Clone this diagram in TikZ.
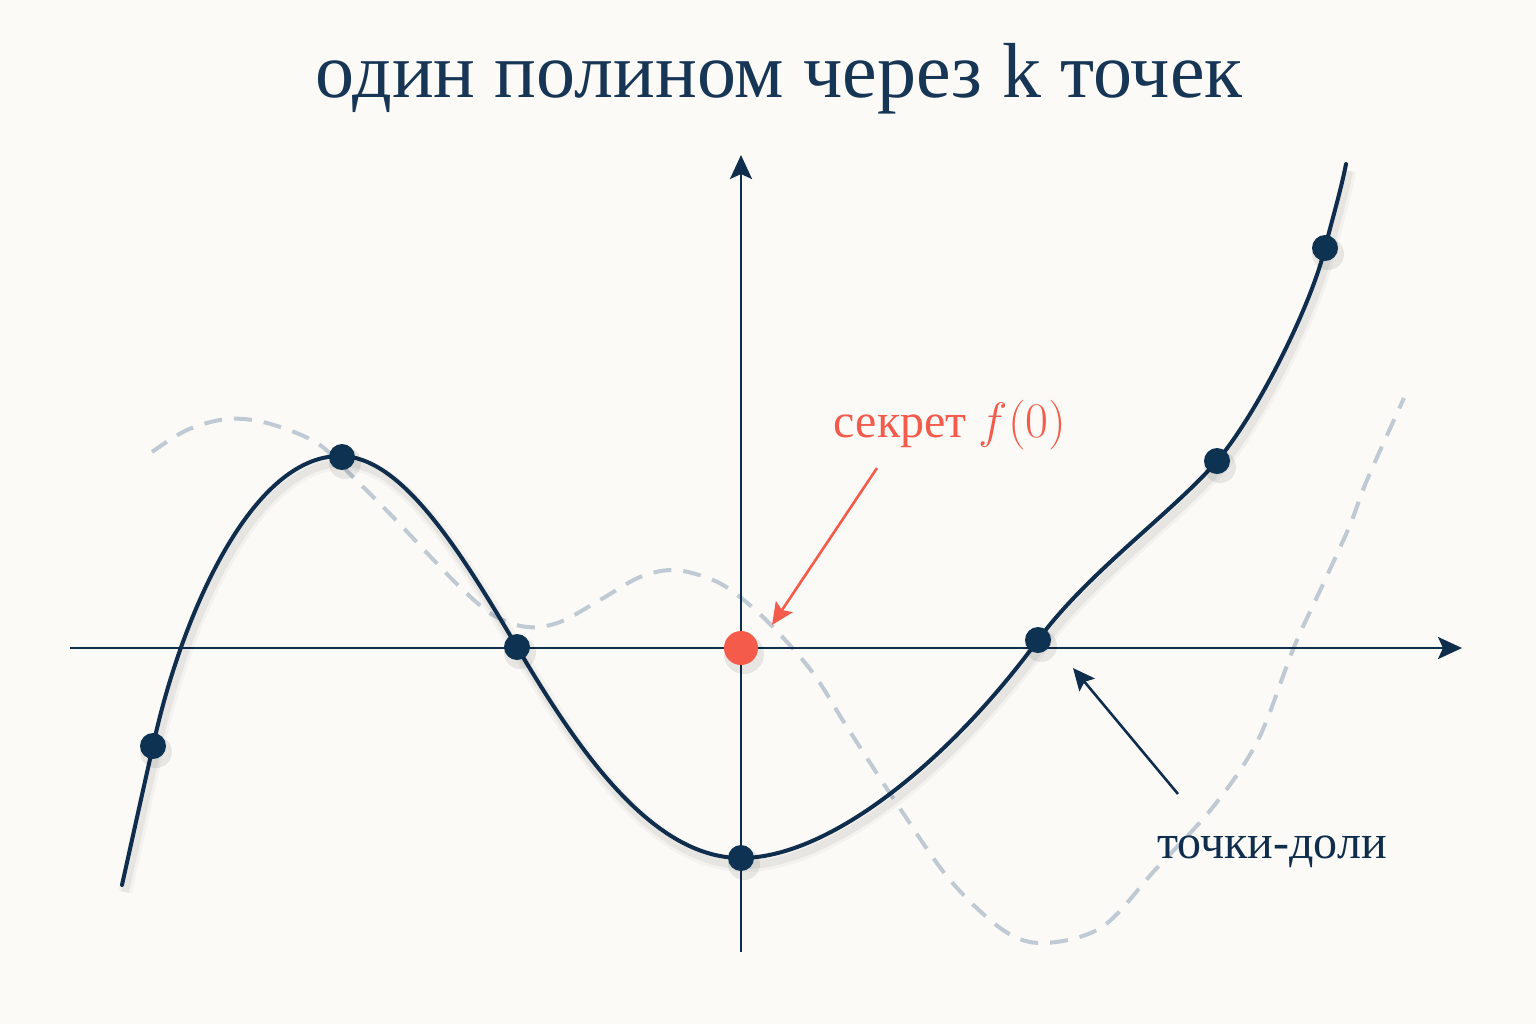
\documentclass[tikz,border=0pt]{standalone}
\usepackage{fontspec}
\setmainfont{Liberation Serif}
\usetikzlibrary{arrows.meta}
\definecolor{bgc}{HTML}{FBFAF7}
\definecolor{navy}{HTML}{0F2D4D}
\definecolor{dotc}{HTML}{0D3252}
\definecolor{titlec}{HTML}{173555}
\definecolor{redc}{HTML}{F55B4B}
\definecolor{dashc}{HTML}{BFCAD4}
\newcommand\solidcurve{(122,885) .. controls (132,840) and (143,790) .. (153,746)
  .. controls (180,620) and (250,456) .. (340,456)
  .. controls (400,456) and (457,545) .. (517,647)
  .. controls (575,745) and (650,858) .. (741,858)
  .. controls (830,858) and (950,760) .. (1038,640)
  .. controls (1088,572) and (1172,513) .. (1217,461)
  .. controls (1257,414) and (1311,306) .. (1325,248)
  .. controls (1332,220) and (1341,190) .. (1346,164)}
\newcommand\dashcurve{plot[smooth,tension=0.55] coordinates{(152,452) (187,430) (227,419) (267,423) (317,443) (353,477) (393,517) (427,553) (460,587) (493,615) (527,627) (560,622) (600,600) (640,577) (675,570) (713,580) (740,597) (773,627) (813,673) (847,727) (901,810) (950,880) (1003,930) (1044,943) (1102,927) (1155,870) (1213,807) (1258,740) (1294,647) (1325,580) (1350,525) (1367,480) (1404,398)}}
\tikzset{
  axisline/.style={draw=navy,line width=1.35pt,-{Stealth[length=12pt,width=11pt,inset=2.5pt]}},
  curveline/.style={draw=navy,line width=2pt,line cap=round},
  shadowline/.style={draw=black,line width=4pt,opacity=0.05},
  dashline/.style={draw=dashc,line width=2pt,dash pattern=on 9pt off 6pt},
  ptdot/.style={circle,fill=dotc,inner sep=0pt,minimum size=13pt},
  secdot/.style={circle,fill=redc,inner sep=0pt,minimum size=17pt},
  dotshadow/.style={circle,fill=black,opacity=0.08,inner sep=0pt,minimum size=16pt},
  redarrow/.style={draw=redc,line width=1.3pt,-{Stealth[length=11pt,width=10pt,inset=2pt]}},
  navyarrow/.style={draw=navy,line width=1.3pt,-{Stealth[length=11pt,width=10pt,inset=2pt]}},
}
\begin{document}
\begin{tikzpicture}[x=0.5pt,y=-0.5pt]
\fill[bgc] (0,0) rectangle (1536,1024);
\useasboundingbox (0,0) rectangle (1536,1024);
% title
\node[anchor=base,text=titlec,font=\fontsize{39}{45}\selectfont] (title) at (779,97) {один полином через k точек};
% dashed curve
\draw[dashline] \dashcurve;
% axes
\coordinate (xs) at (70,648); \coordinate (xe) at (1462,648);
\coordinate (ys) at (741,952); \coordinate (ye) at (741,155);
\draw[axisline] (xs) -- (xe);
\draw[axisline] (ys) -- (ye);
% solid curve with soft shadow
\begin{scope}[shift={(3,7)}]
\draw[shadowline,line width=7pt,opacity=0.03] \solidcurve;
\draw[shadowline] \solidcurve;
\end{scope}
\draw[curveline] \solidcurve;
% point shadows
\foreach \px/\py in {153/746,342/457,517/647,741/858,1038/640,1217/461,1325/248}{
  \node[dotshadow] at (\px+3,\py+6) {};
}
\node[dotshadow,minimum size=20pt] at (744,654) {};
% points
\node[ptdot] (p1) at (153,746) {};
\node[ptdot] (p2) at (342,457) {};
\node[ptdot] (p3) at (517,647) {};
\node[ptdot] (p4) at (741,858) {};
\node[ptdot] (p5) at (1038,640) {};
\node[ptdot] (p6) at (1217,461) {};
\node[ptdot] (p7) at (1325,248) {};
\node[secdot] (sec) at (741,648) {};
% labels
\node[anchor=base,text=redc,font=\fontsize{24}{28}\selectfont] (seclab) at (950,437) {секрет $f(0)$};
\node[anchor=base,text=navy,font=\fontsize{24}{28}\selectfont] (sharelab) at (1272,858) {точки-доли};
% arrows
\coordinate (ra) at (877,468); \coordinate (rb) at (772,625);
\draw[redarrow] (ra) -- (rb);
\coordinate (na) at (1178,794); \coordinate (nb) at (1073,668);
\draw[navyarrow] (na) -- (nb);
\end{tikzpicture}
\end{document}
